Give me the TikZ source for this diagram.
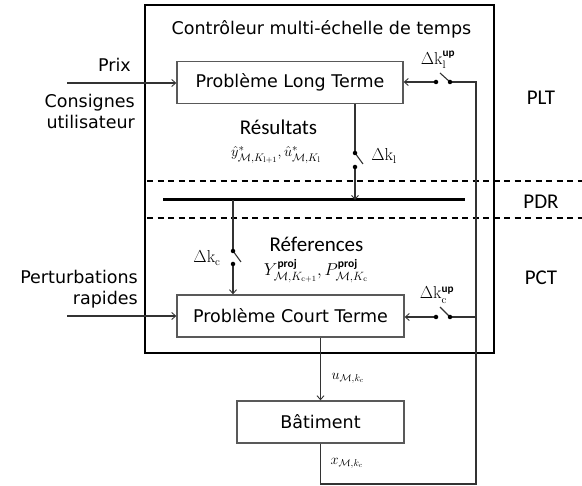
\documentclass[tikz,border=0pt]{standalone}
\usepackage{amsmath}
\usepackage[no-math]{fontspec}
\setmainfont{DejaVu Sans}
\newfontfamily\calfont{Carlito}
\usetikzlibrary{arrows.meta}
\tikzset{
  blk/.style={draw=black!65, line width=1.3pt, minimum width=#1, minimum height=42pt, inner sep=0pt, font=\fontsize{17.5}{20}\selectfont},
  conn/.style={draw=black!80, line width=1.1pt},
  arr/.style={conn, -{Straight Barb[length=4pt,width=7pt,line width=0.9pt]}},
  dot/.style={circle, fill=black, inner sep=0pt, minimum size=4.5pt},
  lbl/.style={font=\fontsize{17.5}{21}\selectfont, inner sep=0pt},
  clbl/.style={font=\calfont\fontsize{21}{24}\selectfont, inner sep=0pt},
  mlbl/.style={font=\fontsize{15}{18}\selectfont, inner sep=0pt},
  dash line/.style={draw=black, line width=1.5pt, dash pattern=on 6pt off 4.5pt},
}
\newcommand{\upsc}[1]{\text{\calfont\bfseries #1}}
\begin{document}
\begin{tikzpicture}[x=1pt,y=-1pt]
\useasboundingbox (0,0) rectangle (582,486);
% outer controller box
\draw[line width=2.6pt] (145,5) rectangle (494,353);
\node[lbl] (title) at (321.5,29) {Contrôleur multi-échelle de temps};
% dashed separators
\coordinate (dA0) at (147,181); \coordinate (dA1) at (582,181);
\coordinate (dB0) at (147,218); \coordinate (dB1) at (582,218);
\draw[dash line] (dA0) -- (dA1);
\draw[dash line] (dB0) -- (dB1);
% boxes
\node[blk=226pt] (lt) at (290,82.5) {Problème Long Terme};
\node[blk=227pt] (ct) at (290.5,316) {Problème Court Terme};
\node[blk=167pt] (bat) at (320.5,422) {Bâtiment};
% bus
\coordinate (busL) at (163,200); \coordinate (busR) at (465,200);
\draw[line width=3pt] (busL) -- (busR);
% long term output switch
\coordinate (d1) at (355,153); \coordinate (d1b) at (363,164); \coordinate (d2) at (355,167);
\draw[conn] (lt.south -| d1) -- (d1);
\draw[conn] (d1) -- (d1b);
\draw[arr] (d2) -- (d2 |- busL);
\node[dot] at (d1) {}; \node[dot] at (d2) {};
\node[mlbl, font=\fontsize{16}{18}\selectfont] (kl) at (384,156) {$\Delta\mathrm{k}_{\mathrm{l}}$};
% short term input switch
\coordinate (c1) at (233,251); \coordinate (c1b) at (241,262); \coordinate (c2) at (233,264);
\draw[conn] (c1 |- busL) -- (c1);
\draw[conn] (c1) -- (c1b);
\draw[arr] (c2) -- (c2 |- ct.north);
\node[dot] at (c1) {}; \node[dot] at (c2) {};
\node[mlbl, font=\fontsize{16}{18}\selectfont] (kc) at (207,258) {$\Delta\mathrm{k}_{\mathrm{c}}$};
% labels
\node[clbl] (res) at (278.5,127) {Résultats};
\node[mlbl, font=\fontsize{15.5}{17}\selectfont] (resf) at (276,155) {$\hat{y}^{*}_{\mathcal{M},K_{\mathrm{l+1}}},\hat{u}^{*}_{\mathcal{M},K_{\mathrm{l}}}$};
\node[clbl] (ref) at (316.5,244) {Réferences};
\node[mlbl, font=\fontsize{16.5}{18}\selectfont] (reff) at (316,271) {$Y^{\upsc{proj}}_{\mathcal{M},K_{\mathrm{c+1}}},P^{\upsc{proj}}_{\mathcal{M},K_{\mathrm{c}}}$};
% feedback switches
\coordinate (s1a) at (436,82); \coordinate (s1b) at (450,82); \coordinate (s1t) at (440,73);
\coordinate (s2a) at (436,317); \coordinate (s2b) at (450,317); \coordinate (s2t) at (440,307);
\coordinate (fb0) at (320.5,484); \coordinate (fb1) at (476,484);
\coordinate (fb2) at (476,82); \coordinate (fb3) at (476,317);
\draw[conn] (bat.south) -- (fb0) -- (fb1) -- (fb2) -- (s1b);
\draw[conn] (fb3) -- (s2b);
\draw[conn] (s1b) -- (s1t);
\draw[conn] (s2b) -- (s2t);
\draw[arr] (s1a) -- (lt.east |- s1a);
\draw[arr] (s2a) -- (ct.east |- s2a);
\node[dot] at (s1a) {}; \node[dot] at (s1b) {};
\node[dot] at (s2a) {}; \node[dot] at (s2b) {};
\node[mlbl, font=\fontsize{16}{18}\selectfont] (klup) at (438,60) {$\Delta\mathrm{k}_{\mathrm{l}}^{\upsc{up}}$};
\node[mlbl, font=\fontsize{16}{18}\selectfont] (kcup) at (437,295) {$\Delta\mathrm{k}_{\mathrm{c}}^{\upsc{up}}$};
% plant connection
\draw[arr] (ct.south -| bat.north) -- (bat.north);
\node[mlbl, font=\fontsize{14}{16}\selectfont] (ulab) at (348,378) {$u_{\mathcal{M},k_{c}}$};
\node[mlbl, font=\fontsize{14}{16}\selectfont] (xlab) at (347,463) {$x_{\mathcal{M},k_{c}}$};
% inputs
\coordinate (in1) at (67,83); \coordinate (in2) at (67,316);
\draw[arr] (in1) -- (lt.west |- in1);
\draw[arr] (in2) -- (ct.west |- in2);
\node[lbl, anchor=east] (prix) at (131,65) {Prix};
\node[lbl, anchor=east, align=right] (cons) at (135,111) {Consignes\\utilisateur};
\node[lbl, anchor=east, align=right] (pert) at (138,289) {Perturbations\\rapides};
% level labels
\node[clbl] (plt) at (541,98) {PLT};
\node[clbl] (pdr) at (541,202) {PDR};
\node[clbl] (pct) at (541,278) {PCT};
\end{tikzpicture}
\end{document}
